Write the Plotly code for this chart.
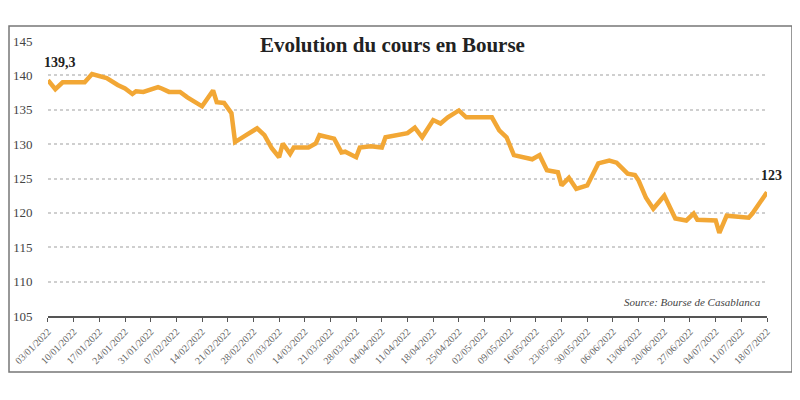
import plotly.graph_objects as go

# daily closing price
dates = ['2022-01-03', '2022-01-05', '2022-01-07', '2022-01-13', '2022-01-15', '2022-01-17',
         '2022-01-19', '2022-01-22', '2022-01-24', '2022-01-26', '2022-01-27', '2022-01-29',
         '2022-02-02', '2022-02-03', '2022-02-05', '2022-02-08', '2022-02-10', '2022-02-14',
         '2022-02-17', '2022-02-18', '2022-02-20', '2022-02-22', '2022-02-23', '2022-02-26',
         '2022-03-01', '2022-03-03', '2022-03-05', '2022-03-07', '2022-03-08', '2022-03-10',
         '2022-03-11', '2022-03-15', '2022-03-17', '2022-03-18', '2022-03-22', '2022-03-24',
         '2022-03-25', '2022-03-28', '2022-03-29', '2022-04-01', '2022-04-04', '2022-04-05',
         '2022-04-08', '2022-04-11', '2022-04-13', '2022-04-15', '2022-04-18', '2022-04-20',
         '2022-04-22', '2022-04-25', '2022-04-27', '2022-05-04', '2022-05-06', '2022-05-08',
         '2022-05-10', '2022-05-12', '2022-05-15', '2022-05-17', '2022-05-19', '2022-05-22',
         '2022-05-23', '2022-05-25', '2022-05-27', '2022-05-30', '2022-06-02', '2022-06-05',
         '2022-06-07', '2022-06-10', '2022-06-12', '2022-06-13', '2022-06-15', '2022-06-17',
         '2022-06-20', '2022-06-23', '2022-06-26', '2022-06-28', '2022-06-29', '2022-07-04',
         '2022-07-05', '2022-07-07', '2022-07-13', '2022-07-14', '2022-07-18']
prices = [139.3, 138.0, 139.0, 139.0, 140.2, 139.9,
          139.6, 138.6, 138.1, 137.3, 137.7, 137.6,
          138.3, 138.1, 137.6, 137.6, 136.8, 135.5,
          137.8, 136.1, 136.0, 134.5, 130.3, 131.3,
          132.3, 131.3, 129.4, 128.1, 130.1, 128.6,
          129.5, 129.5, 130.1, 131.3, 130.8, 128.8,
          128.9, 128.1, 129.5, 129.7, 129.5, 131.0,
          131.3, 131.6, 132.4, 131.0, 133.5, 133.0,
          133.9, 134.9, 133.9, 133.9, 132.0, 131.0,
          128.4, 128.2, 127.8, 128.4, 126.2, 125.9,
          124.0, 125.1, 123.5, 124.0, 127.2, 127.6,
          127.3, 125.7, 125.5, 124.7, 122.2, 120.6,
          122.5, 119.2, 118.9, 119.9, 119.0, 118.9,
          117.1, 119.6, 119.3, 119.9, 123.0]

# weekly ticks
tick_dates = ['2022-01-03', '2022-01-10', '2022-01-17', '2022-01-24', '2022-01-31',
              '2022-02-07', '2022-02-14', '2022-02-21', '2022-02-28', '2022-03-07',
              '2022-03-14', '2022-03-21', '2022-03-28', '2022-04-04', '2022-04-11',
              '2022-04-18', '2022-04-25', '2022-05-02', '2022-05-09', '2022-05-16',
              '2022-05-23', '2022-05-30', '2022-06-06', '2022-06-13', '2022-06-20',
              '2022-06-27', '2022-07-04', '2022-07-11', '2022-07-18']
tick_labels = ['/'.join(reversed(d.split('-'))) for d in tick_dates]
y_ticks = [105, 110, 115, 120, 125, 130, 135, 140, 145]

serif = 'Liberation Serif'
orange = '#F2A735'

fig = go.Figure(go.Scatter(x=dates, y=prices, mode='lines',
                           line=dict(color=orange, width=4.5),
                           hoverinfo='x+y'))

# the paper area is the framed box, the axes sit inside it
fig.add_shape(type='rect', xref='paper', yref='paper',
              x0=0, x1=1, y0=0, y1=1,
              line=dict(color='#777777', width=1.5), layer='above')

# first and last values
fig.add_annotation(x=dates[0], y=prices[0], text='<b>139,3</b>', showarrow=False,
                   xanchor='left', yanchor='bottom', xshift=-6, yshift=8,
                   font=dict(family=serif, size=14, color='#222'))
fig.add_annotation(x=dates[-1], y=prices[-1], text='<b>123</b>', showarrow=False,
                   xanchor='center', yanchor='bottom', xshift=4, yshift=7,
                   font=dict(family=serif, size=14, color='#222'))

# title and source
fig.add_annotation(x=0.49, y=0.945, xref='paper', yref='paper',
                   text='<b>Evolution du cours en Bourse</b>', showarrow=False,
                   xanchor='center', yanchor='middle',
                   font=dict(family=serif, size=21, color='#222'))
fig.add_annotation(x=0.963, y=0.202, xref='paper', yref='paper',
                   text='<i>Source: Bourse de Casablanca</i>', showarrow=False,
                   xanchor='right', yanchor='middle',
                   font=dict(family=serif, size=11, color='#444'))

# page body adds an 8px margin, so the figure is drawn a bit smaller
fig.update_layout(width=792, height=392,
                  margin=dict(l=1, r=8, t=18, b=28),
                  paper_bgcolor='white', plot_bgcolor='white',
                  showlegend=False,
                  xaxis=dict(type='date', range=['2022-01-03', '2022-07-18'],
                             domain=[0.0498, 0.9681],
                             tickvals=tick_dates, ticktext=tick_labels,
                             tickangle=-45, ticks='outside', ticklen=4,
                             tickcolor='#555', showline=True, linecolor='#555',
                             linewidth=2, showgrid=False, automargin=False,
                             tickfont=dict(family=serif, size=10, color='#666')),
                  yaxis=dict(range=[105, 145], tickvals=y_ticks,
                             domain=[0.1618, 0.9566],
                             ticks='outside', ticklen=12, tickcolor='white',
                             showgrid=True, gridcolor='#cfcfcf', griddash='dot',
                             gridwidth=1.5, zeroline=False, showline=False,
                             automargin=False,
                             tickfont=dict(family=serif, size=13, color='#444')))

fig.write_html('out.html')
